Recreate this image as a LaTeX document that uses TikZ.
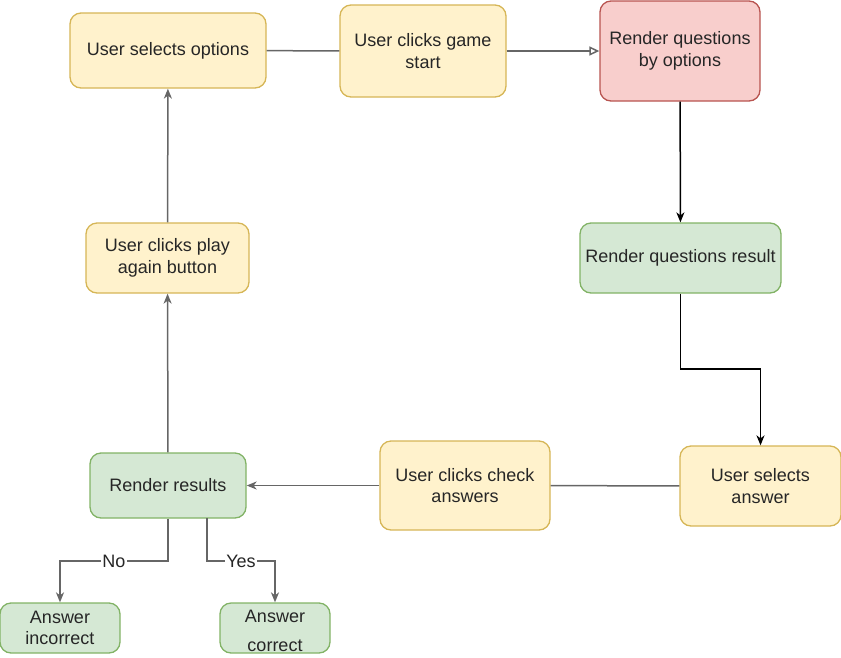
\documentclass[tikz,border=0pt]{standalone}
\usepackage{fontspec}
\setmainfont{Liberation Sans}
\usepackage{tikz}
\usetikzlibrary{positioning}
\usetikzlibrary{shapes}
\usetikzlibrary{arrows.meta}
\definecolor{yellow_fill}{HTML}{FFF2CC}
\definecolor{yellow_line}{HTML}{D6B656}
\definecolor{green_fill}{HTML}{D5E8D4}
\definecolor{green_line}{HTML}{82B366}
\definecolor{red_fill}{HTML}{F8CECC}
\definecolor{red_line}{HTML}{B85450}
\tikzset{
  box_base/.style={rectangle, rounded corners = 11, line width = 1.3pt, text = black!85, align = center, inner sep = 0, font = \fontsize{18}{21.6}\selectfont},
  box_yellow/.style={box_base, draw = yellow_line, fill = yellow_fill},
  box_green/.style={box_base, draw = green_line, fill = green_fill},
  box_red/.style={box_base, draw = red_line, fill = red_fill},
  arrow_black/.style={-{Stealth[length = 10pt, width = 8pt, inset = 3pt]}, line width = 1.5pt, color = black},
  arrow_grey/.style={-{Stealth[length = 10pt, width = 8pt, inset = 3pt]}, line width = 1.5pt, color = black!60},
  arrow_open/.style={-{Triangle[open, length = 10pt, width = 9pt]}, line width = 1.5pt, color = black!60},
  line_grey/.style={line width = 1.5pt, color = black!60},
  edge_label/.style={fill = white, inner sep = 1, text = black!85, font = \fontsize{18}{21.6}\selectfont}}
\begin{document}
\begin{tikzpicture}[x = 1pt, y = -1pt]
\useasboundingbox (0,0) rectangle (841,657);

\node[box_yellow, minimum width = 196, minimum height = 75] at (168,50.5)   (sel_options) {User selects options};
\node[box_yellow, minimum width = 166, minimum height = 92] at (423,51)     (game_start) {User clicks game\\start};
\node[box_red, minimum width = 160, minimum height = 100] at (680,51)      (render_q) {Render questions\\by options};
\node[box_green, minimum width = 201, minimum height = 70] at (680.5,258)  (q_result) {Render questions result};
\node[box_yellow, minimum width = 161, minimum height = 80] at (760.5,486) (sel_answer) {User selects\\answer};
\node[box_yellow, minimum width = 170, minimum height = 89] at (465,485.5) (check) {User clicks check\\answers};
\node[box_green, minimum width = 156, minimum height = 65] at (168,485.5)  (results) {Render results};
\node[box_yellow, minimum width = 163, minimum height = 70] at (167.5,258) (play_again) {User clicks play\\again button};
\node[box_green, minimum width = 120, minimum height = 50] at (60,628)     (incorrect) {Answer\\incorrect};
\node[box_green, minimum width = 110, minimum height = 50] at (275,628)    (correct) {\rule{0pt}{18pt}Answer\\[7pt]correct};

\coordinate (bend_q)   at (680.5,369);
\coordinate (bend_no)  at (168,561);
\coordinate (yes_from) at (207,518);
\coordinate (bend_yes) at (207,561);

%% arrows
\draw[line_grey] (sel_options) -- (game_start);
\draw[arrow_open] (game_start) -- (render_q);

\draw[arrow_black] (render_q) -- (q_result);
\draw[arrow_black] (q_result) -- (bend_q) -| (sel_answer);

\draw[line_grey] (sel_answer) -- (check);
\draw[arrow_grey] (check) -- (results);

\draw[arrow_grey] (results) -- (play_again);
\draw[arrow_grey] (play_again) -- (sel_options);

\draw[arrow_grey] (results) -- (bend_no) -| node[edge_label, pos = 0.25] (no_label) {No} (incorrect);
\draw[arrow_grey] (yes_from) -- (bend_yes) -| node[edge_label, pos = 0.25] (yes_label) {Yes} (correct);

\end{tikzpicture}
\end{document}
